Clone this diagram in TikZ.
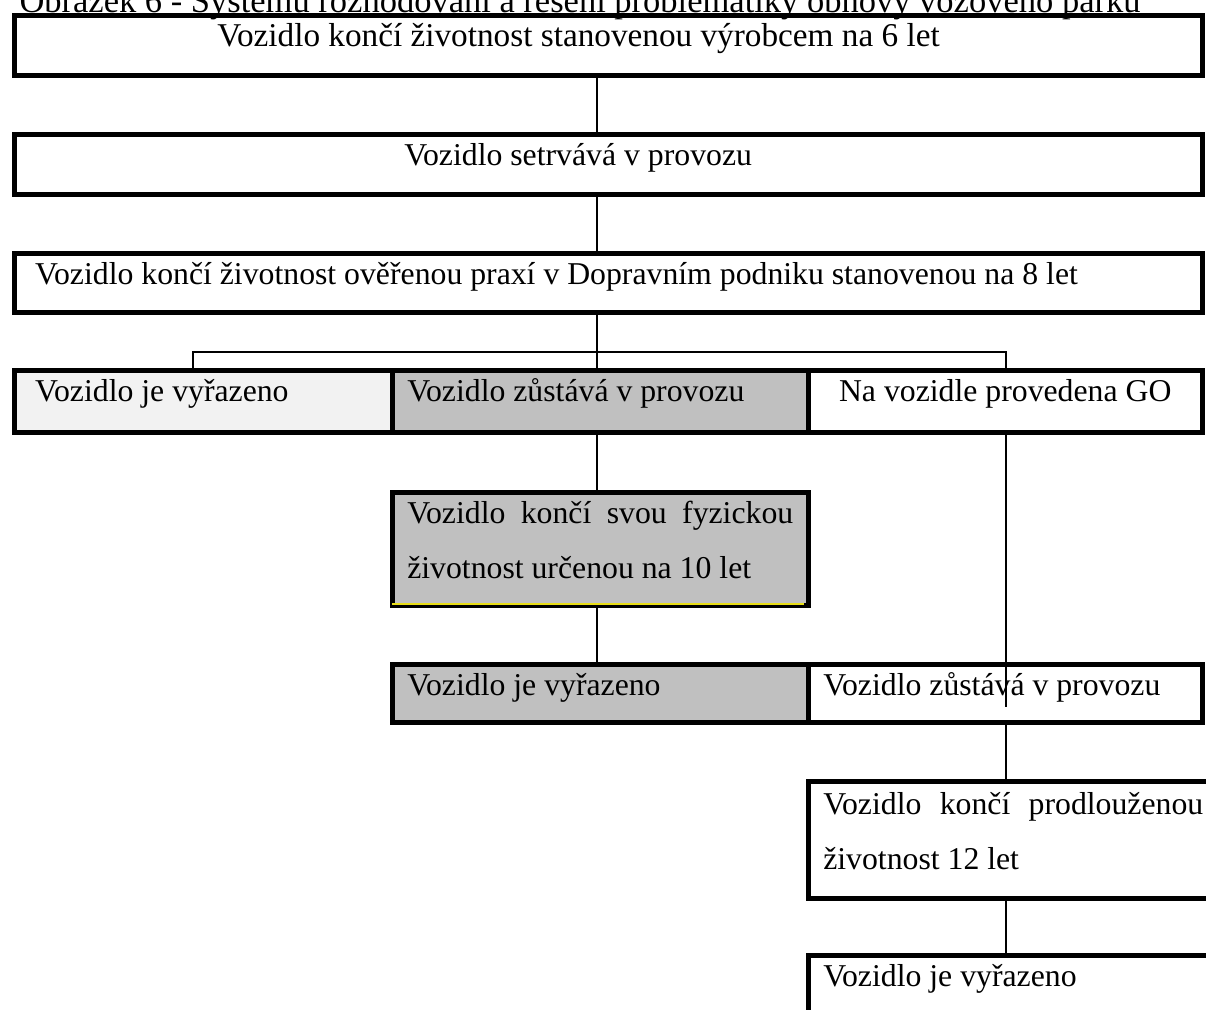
\documentclass[tikz,border=0pt]{standalone}
\usepackage{fontspec}
\setmainfont{Liberation Serif}
\usepackage{xcolor}
\usetikzlibrary{positioning}
\newlength\pix \setlength\pix{0.4pt}
\newcommand{\cellfont}{\fontsize{12.7}{22}\selectfont}
\definecolor{lightcell}{HTML}{F2F2F2}
\definecolor{greycell}{HTML}{C0C0C0}
\tikzstyle{cell} = [draw=black, line width=4.5\pix, anchor=north west, inner ysep=0pt, text height=31\pix, font=\cellfont]
\tikzstyle{link} = [draw=black, line width=2\pix]

\begin{document}
\begin{tikzpicture}[x=0.4pt, y=-0.4pt]
  \useasboundingbox (0,0) rectangle (1206,1009);
  % ---------- caption (cut by the page top) ----------
  \node[anchor=base west, inner sep=0pt, font=\fontsize{13.8}{16}\selectfont] (title) at (19,12) {Obrázek 6 - Systému rozhodování a řešení problematiky obnovy vozového parku};
  % ---------- full-width rows ----------
  \node[cell, font=\fontsize{13.3}{22}\selectfont, inner xsep=203\pix, text width=782\pix, align=flush left, text depth=29\pix] (life6) at (12,13) {Vozidlo končí životnost stanovenou výrobcem na 6 let};
  \node[cell, inner xsep=390\pix, text width=408\pix, align=flush left, text depth=29\pix] (stay) at (12,132) {Vozidlo setrvává v provozu};
  \node[cell, inner xsep=21\pix, text width=1146\pix, align=flush left, text depth=28\pix] (life8) at (12,251) {Vozidlo končí životnost ověřenou praxí v Dopravním podniku stanovenou na 8 let};
  % ---------- three-way split ----------
  \node[cell, fill=lightcell, inner xsep=21\pix, text width=336\pix, align=flush left, text depth=31\pix] (out1) at (12,368) {Vozidlo je vyřazeno};
  \node[cell, fill=greycell, inner xsep=15\pix, text width=386\pix, align=flush left, text depth=31\pix] (keep) at (390,368) {Vozidlo zůstává v provozu};
  \node[cell, inner xsep=0pt, text width=394\pix, align=flush center, text depth=31\pix] (go) at (806,368) {Na vozidle provedena GO};
  % ---------- middle branch ----------
  \node[cell, fill=greycell, inner xsep=15\pix, text width=386\pix, align=justify, text height=31\pix, text depth=82\pix] (life10) at (390,490) {Vozidlo končí svou fyzickou\linebreak životnost určenou na 10 let};
  \draw[yellow!90!black, line width=1.5\pix] (life10.south west) ++(2,-3.4) -- ++(412,0);
  \node[cell, fill=greycell, inner xsep=15\pix, text width=386\pix, align=flush left, text depth=27\pix] (out2) at (390,662) {Vozidlo je vyřazeno};
  % ---------- right branch ----------
  \node[cell, inner xsep=15\pix, text width=364\pix, align=flush left, text depth=27\pix] (keep2) at (806,662) {Vozidlo zůstává v provozu};
  \node[cell, inner xsep=15\pix, text width=380\pix, align=justify, text height=33\pix, text depth=84\pix] (life12) at (806,779) {Vozidlo končí prodlouženou\linebreak životnost 12 let};
  \node[cell, inner xsep=15\pix, text width=380\pix, align=flush left, text depth=49\pix] (out3) at (806,953) {Vozidlo je vyřazeno};
  % ---------- connectors ----------
  \coordinate (col) at (597,0);
  \coordinate (barl) at (193,352);
  \coordinate (barm) at (597,352);
  \coordinate (barr) at (1006,352);
  \coordinate (goend) at (1006,707);
  \draw[link] (life6.south -| col) -- (stay.north -| col);
  \draw[link] (stay.south -| col) -- (life8.north -| col);
  \draw[link] (life8.south -| col) -- (barm);
  \draw[link] (out1.north -| barl) -- (barl) -- (barr) -- (go.north -| barr);
  \draw[link] (barm) -- (keep.north -| barm);
  \draw[link] (keep.south -| col) -- (life10.north -| col);
  \draw[link] (life10.south -| col) -- (out2.north -| col);
  \draw[link] (go.south -| barr) -- (goend);
  \draw[link] (keep2.south -| barr) -- (life12.north -| barr);
  \draw[link] (life12.south -| barr) -- (out3.north -| barr);
\end{tikzpicture}
\end{document}
